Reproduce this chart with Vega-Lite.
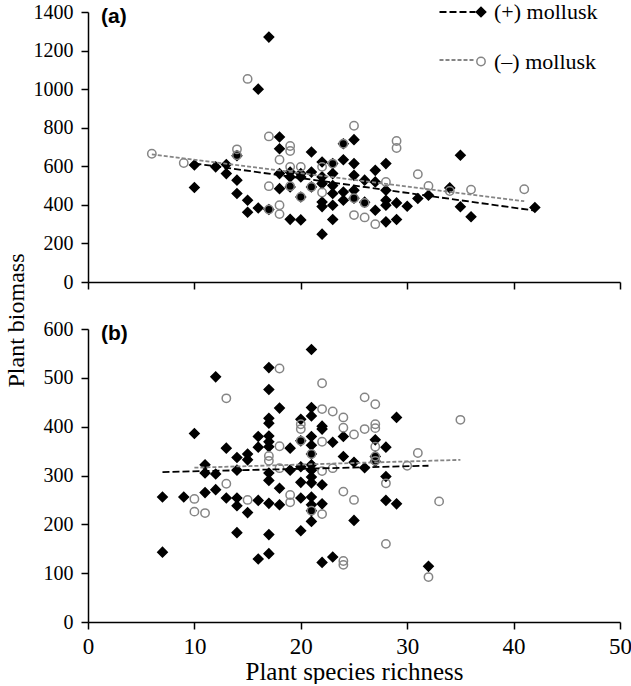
{
  "$schema": "https://vega.github.io/schema/vega-lite/v6.json",
  "background": "white",
  "padding": {"left": 4, "top": 1, "right": 0, "bottom": 0},
  "bounds": "flush",
  "spacing": 47,
  "config": {
    "view": {"stroke": null},
    "font": "Liberation Serif",
    "axis": {"grid": false, "domainColor": "black", "domainWidth": 1.5, "tickColor": "black", "tickWidth": 1.5, "tickSize": 7, "labelColor": "black", "labelFont": "Liberation Serif", "titleFont": "Liberation Serif", "titleColor": "black", "titleFontWeight": "normal", "labelOverlap": false, "labelFlush": false, "labelSeparation": 0, "format": "d"},
    "legend": {"labelFont": "Liberation Serif", "labelColor": "black", "labelFontSize": 22, "title": null},
    "title": {"font": "Liberation Sans", "fontWeight": "bold", "fontSize": 21, "anchor": "start", "frame": "group", "color": "black", "baseline": "top", "offset": -25, "dx": 13}
  },
  "datasets": {
    "pointsA": [
      {"richness":10,"biomass":607,"group":"(+) mollusk"},{"richness":10,"biomass":490,"group":"(+) mollusk"},{"richness":12,"biomass":597,"group":"(+) mollusk"},{"richness":13,"biomass":609,"group":"(+) mollusk"},{"richness":13,"biomass":562,"group":"(+) mollusk"},{"richness":14,"biomass":655,"group":"(+) mollusk"},{"richness":14,"biomass":528,"group":"(+) mollusk"},{"richness":14,"biomass":459,"group":"(+) mollusk"},{"richness":15,"biomass":424,"group":"(+) mollusk"},{"richness":15,"biomass":362,"group":"(+) mollusk"},{"richness":16,"biomass":1000,"group":"(+) mollusk"},{"richness":16,"biomass":384,"group":"(+) mollusk"},{"richness":17,"biomass":1270,"group":"(+) mollusk"},{"richness":17,"biomass":376,"group":"(+) mollusk"},{"richness":18,"biomass":752,"group":"(+) mollusk"},{"richness":18,"biomass":691,"group":"(+) mollusk"},{"richness":18,"biomass":562,"group":"(+) mollusk"},{"richness":18,"biomass":484,"group":"(+) mollusk"},{"richness":19,"biomass":570,"group":"(+) mollusk"},{"richness":19,"biomass":545,"group":"(+) mollusk"},{"richness":19,"biomass":493,"group":"(+) mollusk"},{"richness":19,"biomass":325,"group":"(+) mollusk"},{"richness":20,"biomass":562,"group":"(+) mollusk"},{"richness":20,"biomass":545,"group":"(+) mollusk"},{"richness":20,"biomass":441,"group":"(+) mollusk"},{"richness":20,"biomass":322,"group":"(+) mollusk"},{"richness":21,"biomass":674,"group":"(+) mollusk"},{"richness":21,"biomass":570,"group":"(+) mollusk"},{"richness":21,"biomass":493,"group":"(+) mollusk"},{"richness":22,"biomass":622,"group":"(+) mollusk"},{"richness":22,"biomass":545,"group":"(+) mollusk"},{"richness":22,"biomass":510,"group":"(+) mollusk"},{"richness":22,"biomass":415,"group":"(+) mollusk"},{"richness":22,"biomass":391,"group":"(+) mollusk"},{"richness":22,"biomass":248,"group":"(+) mollusk"},{"richness":23,"biomass":614,"group":"(+) mollusk"},{"richness":23,"biomass":562,"group":"(+) mollusk"},{"richness":23,"biomass":500,"group":"(+) mollusk"},{"richness":23,"biomass":459,"group":"(+) mollusk"},{"richness":23,"biomass":398,"group":"(+) mollusk"},{"richness":23,"biomass":324,"group":"(+) mollusk"},{"richness":24,"biomass":717,"group":"(+) mollusk"},{"richness":24,"biomass":634,"group":"(+) mollusk"},{"richness":24,"biomass":467,"group":"(+) mollusk"},{"richness":24,"biomass":424,"group":"(+) mollusk"},{"richness":25,"biomass":738,"group":"(+) mollusk"},{"richness":25,"biomass":614,"group":"(+) mollusk"},{"richness":25,"biomass":553,"group":"(+) mollusk"},{"richness":25,"biomass":476,"group":"(+) mollusk"},{"richness":25,"biomass":434,"group":"(+) mollusk"},{"richness":26,"biomass":528,"group":"(+) mollusk"},{"richness":26,"biomass":414,"group":"(+) mollusk"},{"richness":27,"biomass":579,"group":"(+) mollusk"},{"richness":27,"biomass":519,"group":"(+) mollusk"},{"richness":27,"biomass":372,"group":"(+) mollusk"},{"richness":28,"biomass":614,"group":"(+) mollusk"},{"richness":28,"biomass":476,"group":"(+) mollusk"},{"richness":28,"biomass":424,"group":"(+) mollusk"},{"richness":28,"biomass":398,"group":"(+) mollusk"},{"richness":28,"biomass":312,"group":"(+) mollusk"},{"richness":29,"biomass":410,"group":"(+) mollusk"},{"richness":29,"biomass":324,"group":"(+) mollusk"},{"richness":30,"biomass":393,"group":"(+) mollusk"},{"richness":31,"biomass":433,"group":"(+) mollusk"},{"richness":32,"biomass":450,"group":"(+) mollusk"},{"richness":34,"biomass":488,"group":"(+) mollusk"},{"richness":35,"biomass":657,"group":"(+) mollusk"},{"richness":35,"biomass":390,"group":"(+) mollusk"},{"richness":36,"biomass":338,"group":"(+) mollusk"},{"richness":42,"biomass":386,"group":"(+) mollusk"},
      {"richness":6,"biomass":665,"group":"(–) mollusk"},{"richness":9,"biomass":617,"group":"(–) mollusk"},{"richness":14,"biomass":688,"group":"(–) mollusk"},{"richness":14,"biomass":657,"group":"(–) mollusk"},{"richness":15,"biomass":1053,"group":"(–) mollusk"},{"richness":17,"biomass":755,"group":"(–) mollusk"},{"richness":17,"biomass":497,"group":"(–) mollusk"},{"richness":17,"biomass":376,"group":"(–) mollusk"},{"richness":18,"biomass":634,"group":"(–) mollusk"},{"richness":18,"biomass":398,"group":"(–) mollusk"},{"richness":18,"biomass":352,"group":"(–) mollusk"},{"richness":19,"biomass":705,"group":"(–) mollusk"},{"richness":19,"biomass":679,"group":"(–) mollusk"},{"richness":19,"biomass":597,"group":"(–) mollusk"},{"richness":19,"biomass":497,"group":"(–) mollusk"},{"richness":20,"biomass":597,"group":"(–) mollusk"},{"richness":20,"biomass":441,"group":"(–) mollusk"},{"richness":21,"biomass":493,"group":"(–) mollusk"},{"richness":22,"biomass":597,"group":"(–) mollusk"},{"richness":22,"biomass":464,"group":"(–) mollusk"},{"richness":23,"biomass":614,"group":"(–) mollusk"},{"richness":24,"biomass":717,"group":"(–) mollusk"},{"richness":25,"biomass":810,"group":"(–) mollusk"},{"richness":25,"biomass":434,"group":"(–) mollusk"},{"richness":25,"biomass":347,"group":"(–) mollusk"},{"richness":26,"biomass":410,"group":"(–) mollusk"},{"richness":26,"biomass":335,"group":"(–) mollusk"},{"richness":27,"biomass":300,"group":"(–) mollusk"},{"richness":28,"biomass":519,"group":"(–) mollusk"},{"richness":29,"biomass":731,"group":"(–) mollusk"},{"richness":29,"biomass":695,"group":"(–) mollusk"},{"richness":31,"biomass":559,"group":"(–) mollusk"},{"richness":32,"biomass":498,"group":"(–) mollusk"},{"richness":34,"biomass":472,"group":"(–) mollusk"},{"richness":36,"biomass":479,"group":"(–) mollusk"},{"richness":41,"biomass":481,"group":"(–) mollusk"}
    ],
    "pointsB": [
      {"richness":7,"biomass":256,"group":"(+) mollusk"},{"richness":7,"biomass":143,"group":"(+) mollusk"},{"richness":9,"biomass":256,"group":"(+) mollusk"},{"richness":10,"biomass":386,"group":"(+) mollusk"},{"richness":11,"biomass":322,"group":"(+) mollusk"},{"richness":11,"biomass":305,"group":"(+) mollusk"},{"richness":11,"biomass":265,"group":"(+) mollusk"},{"richness":12,"biomass":502,"group":"(+) mollusk"},{"richness":12,"biomass":303,"group":"(+) mollusk"},{"richness":12,"biomass":271,"group":"(+) mollusk"},{"richness":13,"biomass":356,"group":"(+) mollusk"},{"richness":13,"biomass":254,"group":"(+) mollusk"},{"richness":14,"biomass":337,"group":"(+) mollusk"},{"richness":14,"biomass":311,"group":"(+) mollusk"},{"richness":14,"biomass":254,"group":"(+) mollusk"},{"richness":14,"biomass":238,"group":"(+) mollusk"},{"richness":14,"biomass":183,"group":"(+) mollusk"},{"richness":15,"biomass":344,"group":"(+) mollusk"},{"richness":15,"biomass":332,"group":"(+) mollusk"},{"richness":15,"biomass":224,"group":"(+) mollusk"},{"richness":16,"biomass":380,"group":"(+) mollusk"},{"richness":16,"biomass":358,"group":"(+) mollusk"},{"richness":16,"biomass":249,"group":"(+) mollusk"},{"richness":16,"biomass":129,"group":"(+) mollusk"},{"richness":17,"biomass":521,"group":"(+) mollusk"},{"richness":17,"biomass":476,"group":"(+) mollusk"},{"richness":17,"biomass":417,"group":"(+) mollusk"},{"richness":17,"biomass":407,"group":"(+) mollusk"},{"richness":17,"biomass":381,"group":"(+) mollusk"},{"richness":17,"biomass":369,"group":"(+) mollusk"},{"richness":17,"biomass":359,"group":"(+) mollusk"},{"richness":17,"biomass":305,"group":"(+) mollusk"},{"richness":17,"biomass":290,"group":"(+) mollusk"},{"richness":17,"biomass":243,"group":"(+) mollusk"},{"richness":17,"biomass":179,"group":"(+) mollusk"},{"richness":17,"biomass":140,"group":"(+) mollusk"},{"richness":18,"biomass":438,"group":"(+) mollusk"},{"richness":18,"biomass":274,"group":"(+) mollusk"},{"richness":18,"biomass":240,"group":"(+) mollusk"},{"richness":19,"biomass":356,"group":"(+) mollusk"},{"richness":19,"biomass":311,"group":"(+) mollusk"},{"richness":20,"biomass":415,"group":"(+) mollusk"},{"richness":20,"biomass":371,"group":"(+) mollusk"},{"richness":20,"biomass":318,"group":"(+) mollusk"},{"richness":20,"biomass":286,"group":"(+) mollusk"},{"richness":20,"biomass":254,"group":"(+) mollusk"},{"richness":20,"biomass":187,"group":"(+) mollusk"},{"richness":21,"biomass":558,"group":"(+) mollusk"},{"richness":21,"biomass":439,"group":"(+) mollusk"},{"richness":21,"biomass":422,"group":"(+) mollusk"},{"richness":21,"biomass":380,"group":"(+) mollusk"},{"richness":21,"biomass":362,"group":"(+) mollusk"},{"richness":21,"biomass":344,"group":"(+) mollusk"},{"richness":21,"biomass":322,"group":"(+) mollusk"},{"richness":21,"biomass":311,"group":"(+) mollusk"},{"richness":21,"biomass":297,"group":"(+) mollusk"},{"richness":21,"biomass":285,"group":"(+) mollusk"},{"richness":21,"biomass":256,"group":"(+) mollusk"},{"richness":21,"biomass":240,"group":"(+) mollusk"},{"richness":21,"biomass":228,"group":"(+) mollusk"},{"richness":21,"biomass":206,"group":"(+) mollusk"},{"richness":22,"biomass":401,"group":"(+) mollusk"},{"richness":22,"biomass":395,"group":"(+) mollusk"},{"richness":22,"biomass":281,"group":"(+) mollusk"},{"richness":22,"biomass":242,"group":"(+) mollusk"},{"richness":22,"biomass":122,"group":"(+) mollusk"},{"richness":23,"biomass":368,"group":"(+) mollusk"},{"richness":23,"biomass":133,"group":"(+) mollusk"},{"richness":24,"biomass":380,"group":"(+) mollusk"},{"richness":24,"biomass":339,"group":"(+) mollusk"},{"richness":25,"biomass":327,"group":"(+) mollusk"},{"richness":25,"biomass":208,"group":"(+) mollusk"},{"richness":26,"biomass":316,"group":"(+) mollusk"},{"richness":27,"biomass":373,"group":"(+) mollusk"},{"richness":27,"biomass":339,"group":"(+) mollusk"},{"richness":27,"biomass":329,"group":"(+) mollusk"},{"richness":28,"biomass":358,"group":"(+) mollusk"},{"richness":28,"biomass":298,"group":"(+) mollusk"},{"richness":28,"biomass":249,"group":"(+) mollusk"},{"richness":29,"biomass":419,"group":"(+) mollusk"},{"richness":29,"biomass":242,"group":"(+) mollusk"},{"richness":32,"biomass":114,"group":"(+) mollusk"},
      {"richness":10,"biomass":252,"group":"(–) mollusk"},{"richness":10,"biomass":226,"group":"(–) mollusk"},{"richness":11,"biomass":223,"group":"(–) mollusk"},{"richness":13,"biomass":458,"group":"(–) mollusk"},{"richness":13,"biomass":283,"group":"(–) mollusk"},{"richness":15,"biomass":250,"group":"(–) mollusk"},{"richness":17,"biomass":340,"group":"(–) mollusk"},{"richness":17,"biomass":330,"group":"(–) mollusk"},{"richness":18,"biomass":519,"group":"(–) mollusk"},{"richness":18,"biomass":360,"group":"(–) mollusk"},{"richness":18,"biomass":315,"group":"(–) mollusk"},{"richness":19,"biomass":260,"group":"(–) mollusk"},{"richness":19,"biomass":245,"group":"(–) mollusk"},{"richness":20,"biomass":405,"group":"(–) mollusk"},{"richness":20,"biomass":395,"group":"(–) mollusk"},{"richness":20,"biomass":371,"group":"(–) mollusk"},{"richness":21,"biomass":344,"group":"(–) mollusk"},{"richness":21,"biomass":228,"group":"(–) mollusk"},{"richness":22,"biomass":489,"group":"(–) mollusk"},{"richness":22,"biomass":436,"group":"(–) mollusk"},{"richness":22,"biomass":369,"group":"(–) mollusk"},{"richness":22,"biomass":309,"group":"(–) mollusk"},{"richness":22,"biomass":221,"group":"(–) mollusk"},{"richness":23,"biomass":431,"group":"(–) mollusk"},{"richness":23,"biomass":315,"group":"(–) mollusk"},{"richness":24,"biomass":419,"group":"(–) mollusk"},{"richness":24,"biomass":398,"group":"(–) mollusk"},{"richness":24,"biomass":267,"group":"(–) mollusk"},{"richness":24,"biomass":125,"group":"(–) mollusk"},{"richness":24,"biomass":117,"group":"(–) mollusk"},{"richness":25,"biomass":384,"group":"(–) mollusk"},{"richness":25,"biomass":250,"group":"(–) mollusk"},{"richness":26,"biomass":460,"group":"(–) mollusk"},{"richness":26,"biomass":395,"group":"(–) mollusk"},{"richness":27,"biomass":446,"group":"(–) mollusk"},{"richness":27,"biomass":405,"group":"(–) mollusk"},{"richness":27,"biomass":397,"group":"(–) mollusk"},{"richness":27,"biomass":359,"group":"(–) mollusk"},{"richness":27,"biomass":339,"group":"(–) mollusk"},{"richness":27,"biomass":330,"group":"(–) mollusk"},{"richness":28,"biomass":284,"group":"(–) mollusk"},{"richness":28,"biomass":160,"group":"(–) mollusk"},{"richness":30,"biomass":320,"group":"(–) mollusk"},{"richness":31,"biomass":346,"group":"(–) mollusk"},{"richness":32,"biomass":92,"group":"(–) mollusk"},{"richness":33,"biomass":247,"group":"(–) mollusk"},{"richness":35,"biomass":414,"group":"(–) mollusk"}
    ],
    "linesA": [
      {"richness":10,"biomass":615,"line":"(+)"},{"richness":42,"biomass":370,"line":"(+)"},
      {"richness":6,"biomass":662,"line":"(–)"},{"richness":41,"biomass":419,"line":"(–)"}
    ],
    "linesB": [
      {"richness":7,"biomass":307,"line":"(+)"},{"richness":32,"biomass":320,"line":"(+)"},
      {"richness":10,"biomass":316,"line":"(–)"},{"richness":35,"biomass":332,"line":"(–)"}
    ]
  },
  "vconcat": [
    {
      "title": {"text": "(a)"},
      "width": 532,
      "height": 270,
      "encoding": {
        "x": {"field": "richness", "type": "quantitative", "scale": {"domain": [0, 50], "nice": false}, "axis": {"values": [0, 10, 20, 30, 40, 50], "labels": false, "title": null}},
        "y": {"field": "biomass", "type": "quantitative", "scale": {"domain": [0, 1400], "nice": false}, "axis": {"values": [0, 200, 400, 600, 800, 1000, 1200, 1400], "labelOverlap": false, "labelFlush": false, "labelBound": false, "labelFontSize": 20, "labelPadding": 8, "title": "Plant biomass", "titleFontSize": 24, "titleBaseline": "alphabetic", "titleX": -64.5, "titleY": 308}}
      },
      "layer": [
        {
          "data": {"name": "pointsA"},
          "mark": {"type": "point", "opacity": 1, "strokeWidth": 1.5},
          "encoding": {
            "shape": {"field": "group", "type": "nominal", "scale": {"domain": ["(+) mollusk", "(–) mollusk"], "range": ["diamond", "circle"]}, "legend": {"orient": "none", "legendX": 382, "legendY": -11, "rowPadding": 27.5, "labelOffset": 2, "symbolStrokeWidth": 1.5}},
            "fill": {"field": "group", "type": "nominal", "scale": {"domain": ["(+) mollusk", "(–) mollusk"], "range": ["#000000", "transparent"]}, "legend": {"orient": "none", "legendX": 382, "legendY": -11, "rowPadding": 27.5, "labelOffset": 2, "symbolStrokeWidth": 1.5}},
            "stroke": {"field": "group", "type": "nominal", "scale": {"domain": ["(+) mollusk", "(–) mollusk"], "range": ["#000000", "#858585"]}, "legend": {"orient": "none", "legendX": 382, "legendY": -11, "rowPadding": 27.5, "labelOffset": 2, "symbolStrokeWidth": 1.5}},
            "size": {"field": "group", "type": "nominal", "scale": {"domain": ["(+) mollusk", "(–) mollusk"], "range": [90, 70]}, "legend": {"orient": "none", "legendX": 382, "legendY": -11, "rowPadding": 27.5, "labelOffset": 2, "symbolStrokeWidth": 1.5}}
          }
        },
        {
          "data": {"name": "linesA"},
          "mark": {"type": "line", "strokeWidth": 1.8},
          "encoding": {
            "color": {"field": "line", "type": "nominal", "scale": {"domain": ["(+)", "(–)"], "range": ["#000000", "#858585"]}, "legend": {"orient": "none", "legendX": 350.5, "legendY": -11, "rowPadding": 26, "clipHeight": 22, "labelExpr": "''", "symbolType": "stroke", "symbolSize": 1296, "symbolStrokeWidth": 1.8}},
            "strokeDash": {"field": "line", "type": "nominal", "scale": {"domain": ["(+)", "(–)"], "range": [[7, 3], [4, 2]]}, "legend": {"orient": "none", "legendX": 350.5, "legendY": -11, "rowPadding": 26, "clipHeight": 22, "labelExpr": "''", "symbolType": "stroke", "symbolSize": 1296, "symbolStrokeWidth": 1.8}}
          }
        }
      ]
    },
    {
      "title": {"text": "(b)"},
      "width": 532,
      "height": 293,
      "encoding": {
        "x": {"field": "richness", "type": "quantitative", "scale": {"domain": [0, 50], "nice": false}, "axis": {"values": [0, 10, 20, 30, 40, 50], "labelOverlap": false, "labelFontSize": 23, "labelPadding": 6.5, "title": "Plant species richness", "titleFontSize": 25, "titleBaseline": "alphabetic", "titleY": 57}},
        "y": {"field": "biomass", "type": "quantitative", "scale": {"domain": [0, 600], "nice": false}, "axis": {"values": [0, 100, 200, 300, 400, 500, 600], "labelOverlap": false, "labelFlush": false, "labelFontSize": 20, "labelPadding": 8, "title": null}}
      },
      "layer": [
        {
          "data": {"name": "pointsB"},
          "mark": {"type": "point", "opacity": 1, "strokeWidth": 1.5},
          "encoding": {
            "shape": {"field": "group", "type": "nominal", "scale": {"domain": ["(+) mollusk", "(–) mollusk"], "range": ["diamond", "circle"]}, "legend": {"orient": "none", "legendX": 382, "legendY": -11, "rowPadding": 27.5, "labelOffset": 2, "symbolStrokeWidth": 1.5}},
            "fill": {"field": "group", "type": "nominal", "scale": {"domain": ["(+) mollusk", "(–) mollusk"], "range": ["#000000", "transparent"]}, "legend": {"orient": "none", "legendX": 382, "legendY": -11, "rowPadding": 27.5, "labelOffset": 2, "symbolStrokeWidth": 1.5}},
            "stroke": {"field": "group", "type": "nominal", "scale": {"domain": ["(+) mollusk", "(–) mollusk"], "range": ["#000000", "#858585"]}, "legend": {"orient": "none", "legendX": 382, "legendY": -11, "rowPadding": 27.5, "labelOffset": 2, "symbolStrokeWidth": 1.5}},
            "size": {"field": "group", "type": "nominal", "scale": {"domain": ["(+) mollusk", "(–) mollusk"], "range": [90, 70]}, "legend": {"orient": "none", "legendX": 382, "legendY": -11, "rowPadding": 27.5, "labelOffset": 2, "symbolStrokeWidth": 1.5}}
          }
        },
        {
          "data": {"name": "linesB"},
          "mark": {"type": "line", "strokeWidth": 1.8},
          "encoding": {
            "color": {"field": "line", "type": "nominal", "scale": {"domain": ["(+)", "(–)"], "range": ["#000000", "#858585"]}, "legend": {"orient": "none", "legendX": 350.5, "legendY": -11, "rowPadding": 26, "clipHeight": 22, "labelExpr": "''", "symbolType": "stroke", "symbolSize": 1296, "symbolStrokeWidth": 1.8}},
            "strokeDash": {"field": "line", "type": "nominal", "scale": {"domain": ["(+)", "(–)"], "range": [[7, 3], [4, 2]]}, "legend": {"orient": "none", "legendX": 350.5, "legendY": -11, "rowPadding": 26, "clipHeight": 22, "labelExpr": "''", "symbolType": "stroke", "symbolSize": 1296, "symbolStrokeWidth": 1.8}}
          }
        }
      ]
    }
  ]
}
